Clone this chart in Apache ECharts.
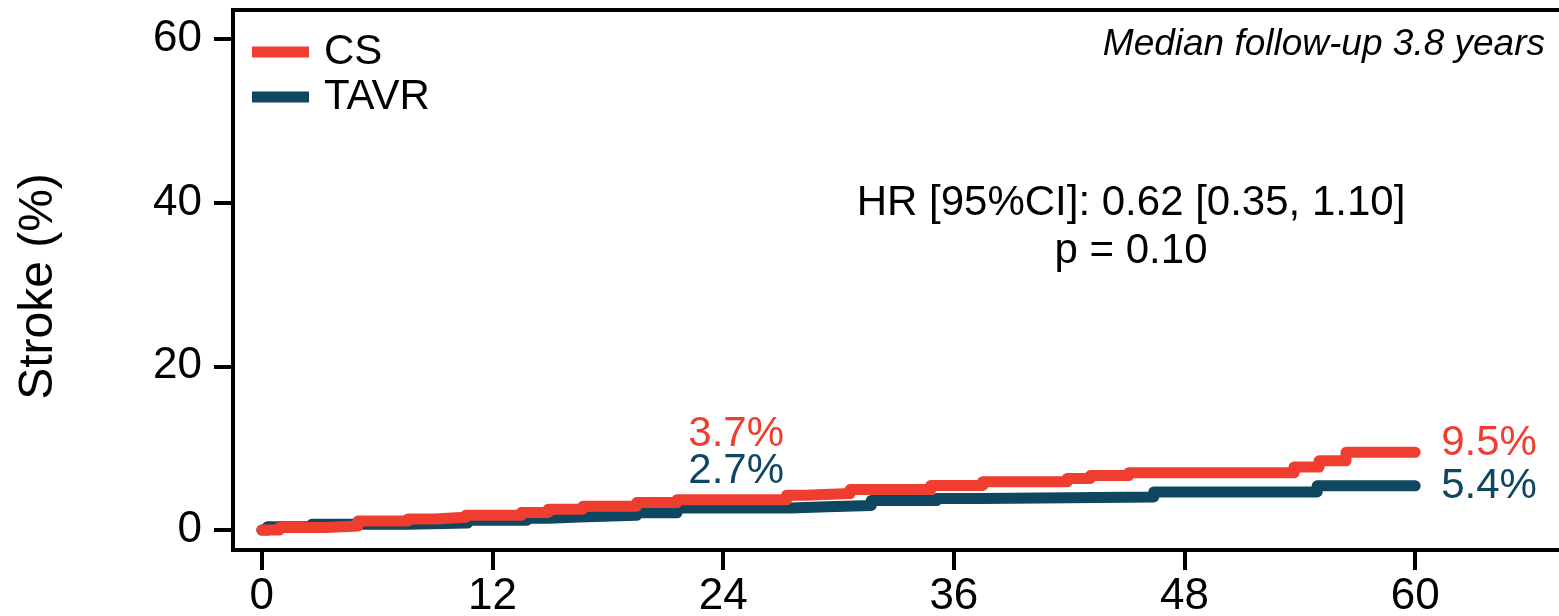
<!DOCTYPE html>
<html>
<head>
<meta charset="utf-8">
<script src="https://cdn.jsdelivr.net/npm/echarts@6/dist/echarts.min.js"></script>
<style>
html,body{margin:0;padding:0;background:#fff;}
#chart{width:1559px;height:616px;}
</style>
</head>
<body>
<div id="chart"></div>
<script>
// ---- data ----
const seriesNames = ['CS', 'TAVR'];
const csMonths = [0, 0.9, 3.3, 5.0, 7.6, 9.0, 10.6, 13.5, 14.9, 16.7, 19.5, 21.6, 27.3, 28.3, 30.6, 34.8, 37.5, 41.9, 43.1, 45.1, 53.7, 55.0, 56.4, 60];
const csRates  = [0, 0.3, 0.5, 1.1, 1.35, 1.55, 1.8, 2.15, 2.55, 2.9, 3.35, 3.7, 4.25, 4.45, 4.95, 5.45, 5.9, 6.3, 6.65, 7.0, 7.7, 8.45, 9.5, 9.5];
const tavrMonths = [0, 0.3, 2.6, 7.6, 10.7, 13.8, 14.9, 16.5, 19.5, 21.6, 27.5, 29.4, 31.7, 35.1, 37.5, 46.4, 54.9, 60];
const tavrRates  = [0, 0.4, 0.7, 0.85, 1.2, 1.45, 1.6, 1.8, 2.1, 2.7, 2.85, 3.0, 3.6, 3.85, 4.05, 4.65, 5.4, 5.4];
const xTicks = [0, 12, 24, 36, 48, 60];
const yTicks = [0, 20, 40, 60];
const midMonth = 24;
const csMid = 3.7, tavrMid = 2.7;
const hrText = 'HR [95%CI]: 0.62 [0.35, 1.10]';
const pText = 'p = 0.10';
const followText = 'Median follow-up 3.8 years';
const yTitle = 'Stroke (%)';

const RED = '#ef3e2f';
const TEAL = '#0f4660';
const FONT = '"Liberation Sans", Arial, Helvetica, sans-serif';

function pairs(xs, ys) { return xs.map((x, i) => [x, ys[i]]); }

const chart = echarts.init(document.getElementById('chart'), null, {renderer: 'canvas'});

function mkSeries(name, xs, ys, color, midVal, midOffset, endOffset) {
  return {
    name: name,
    type: 'line',
    step: 'end',
    symbol: 'none',
    data: pairs(xs, ys),
    lineStyle: {color: color, width: 11, cap: 'round', join: 'round'},
    itemStyle: {color: color},
    emphasis: {disabled: true},
    clip: false,
    endLabel: {
      show: true,
      formatter: () => ys[ys.length - 1].toFixed(1) + '%',
      color: color,
      fontFamily: FONT,
      fontSize: 42,
      distance: 26,
      offset: endOffset
    },
    markPoint: {
      symbol: 'rect',
      symbolSize: 1,
      itemStyle: {color: 'rgba(0,0,0,0)'},
      silent: true,
      data: [{coord: [midMonth, midVal], value: midVal}],
      label: {
        show: true,
        position: 'inside',
        formatter: () => midVal.toFixed(1) + '%',
        color: color,
        fontFamily: FONT,
        fontSize: 42,
        offset: midOffset
      }
    },
    animation: false
  };
}

const option = {
  animation: false,
  backgroundColor: '#fff',
  grid: {
    left: 233, top: 10, right: -10, bottom: 66,
    outerBoundsMode: 'none',
    containLabel: false,
    show: true, borderColor: '#000', borderWidth: 4, backgroundColor: 'transparent'
  },
  legend: {
    data: seriesNames,
    orient: 'vertical',
    left: 247, top: 26,
    icon: 'rect',
    itemWidth: 57, itemHeight: 11,
    itemGap: 3,
    selectedMode: false,
    textStyle: {fontFamily: FONT, fontSize: 42, color: '#000', lineHeight: 42, padding: [0, 0, 0, 10]}
  },
  xAxis: {
    type: 'value',
    min: -1.5, max: 68,
    axisLine: {show: true, onZero: false, lineStyle: {color: '#000', width: 4}},
    axisTick: {show: true, length: 20, lineStyle: {color: '#000', width: 4}, customValues: xTicks},
    axisLabel: {fontFamily: FONT, fontSize: 44, color: '#000', margin: 25, customValues: xTicks},
    splitLine: {show: false}
  },
  yAxis: {
    type: 'value',
    min: -2.44, max: 63.54,
    name: yTitle,
    nameLocation: 'middle',
    nameRotate: 90,
    nameGap: 170,
    nameTextStyle: {fontFamily: FONT, fontSize: 48, color: '#000', padding: [0, 13, 0, 0]},
    axisLine: {show: true, onZero: false, lineStyle: {color: '#000', width: 4}},
    axisTick: {show: true, length: 19, lineStyle: {color: '#000', width: 4}, customValues: yTicks},
    axisLabel: {fontFamily: FONT, fontSize: 44, color: '#000', margin: 31, customValues: yTicks},
    splitLine: {show: false}
  },
  graphic: [
    {type: 'text', x: 1131, y: 203, silent: true,
     style: {text: hrText, font: '42px ' + FONT, fill: '#000', align: 'center', verticalAlign: 'middle'}},
    {type: 'text', x: 1131, y: 251, silent: true,
     style: {text: pText, font: '42px ' + FONT, fill: '#000', align: 'center', verticalAlign: 'middle'}},
    {type: 'text', x: 1545, y: 45, silent: true,
     style: {text: followText, font: 'italic 37px ' + FONT, fill: '#000', align: 'right', verticalAlign: 'middle'}}
  ],
  series: [
    mkSeries('TAVR', tavrMonths, tavrRates, TEAL, tavrMid, [13, -37], [0, 1]),
    mkSeries('CS', csMonths, csRates, RED, csMid, [13, -65], [0, -9])
  ]
};
chart.setOption(option);
</script>
</body>
</html>
